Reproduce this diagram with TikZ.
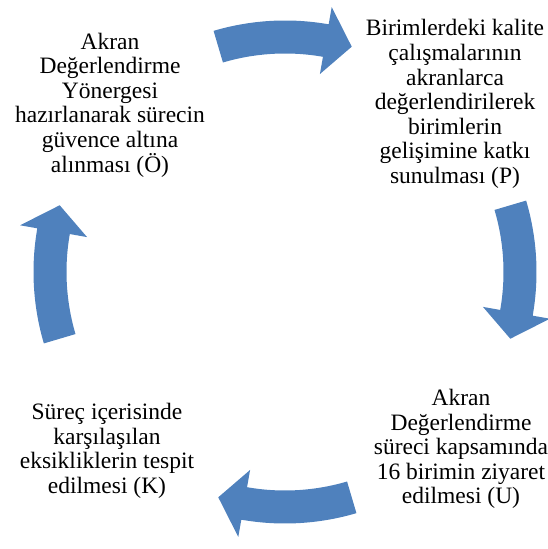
\documentclass[tikz,border=0pt]{standalone}
\usepackage{fontspec}
\setmainfont{Liberation Serif}
\definecolor{cycleblue}{HTML}{4F81BD}

\begin{document}
\begin{tikzpicture}[x=1pt,y=1pt,
	stage/.style={align=center,inner sep=0pt,font=\fontsize{23.5}{24.6}\selectfont},
	cyclearrow/.style={fill=cycleblue,draw=none}]
	\useasboundingbox (0,0) rectangle (547,549);
	\coordinate (hub) at (285,277);

	\node[stage] (O) at (110,444) {Akran\\Değerlendirme\\Yönergesi\\hazırlanarak sürecin\\güvence altına\\alınması (Ö)};
	\node[stage] (P) at (455,445) {Birimlerdeki kalite\\çalışmalarının\\akranlarca\\değerlendirilerek\\birimlerin\\gelişimine katkı\\sunulması (P)};
	\node[stage] (U) at (461,100) {Akran\\Değerlendirme\\süreci kapsamında\\16 birimin ziyaret\\edilmesi (U)};
	\node[stage] (K) at (107,98) {Süreç içerisinde\\karşılaşılan\\eksikliklerin tespit\\edilmesi (K)};

	% curved block arrows, clockwise
	\begin{scope}[shift={(hub)}]
	\foreach \c in {90,0,-90,180}{
		\fill[cyclearrow] ({\c+16.5}:251.5) arc[start angle={\c+16.5}, end angle={\c-10}, radius=251.5]
			-- ({\c-10}:269) -- ({\c-16.5}:235) -- ({\c-10}:201) -- ({\c-10}:218.5)
			arc[start angle={\c-10}, end angle={\c+16.5}, radius=218.5] -- cycle;
	}
	\end{scope}
\end{tikzpicture}
\end{document}
